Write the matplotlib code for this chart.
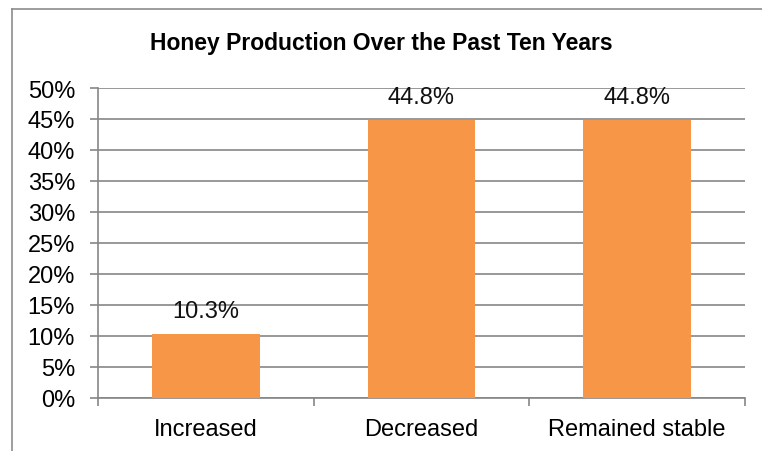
import matplotlib.pyplot as plt
from matplotlib.lines import Line2D

plt.rcParams['font.family'] = ['Liberation Sans', 'DejaVu Sans']

categories = ['Increased', 'Decreased', 'Remained stable']
values = [10.3, 44.8, 44.8]
value_labels = ['10.3%', '44.8%', '44.8%']
y_ticks = [0, 5, 10, 15, 20, 25, 30, 35, 40, 45, 50]

bar_color = '#F79646'
grid_color = '#868686'

fig = plt.figure(figsize=(7.62, 4.52), dpi=100)
ax = fig.add_axes([98 / 762, 1 - 399 / 452, (745 - 98) / 762, (399 - 89) / 452])

x = range(len(categories))
ax.bar(x, values, width=0.5, color=bar_color, zorder=3)

for xi, v, lab in zip(x, values, value_labels):
    ax.annotate(lab, (xi, v), xytext=(0, 12.5), textcoords='offset points',
                ha='center', va='baseline', fontsize=17, color='#111111')

ax.set_xlim(-0.5, len(categories) - 0.5)
ax.set_ylim(0, 50)
ax.set_yticks(y_ticks)
ax.set_yticklabels([f'{t}%' for t in y_ticks], fontsize=17)
ax.set_xticks(x)
ax.set_xticklabels(categories, fontsize=17)
ax.set_xticks([-0.5, 0.5, 1.5, 2.5], minor=True)

ax.yaxis.grid(True, color=grid_color, linewidth=1.2, zorder=0)
ax.tick_params(axis='y', length=6, width=1.2, color=grid_color, pad=10.5)
ax.tick_params(axis='x', which='major', length=0, pad=14.5)
ax.tick_params(axis='x', which='minor', length=6, width=1.2, color=grid_color)

for s in ['top', 'right']:
    ax.spines[s].set_visible(False)
for s in ['left', 'bottom']:
    ax.spines[s].set_color(grid_color)
    ax.spines[s].set_linewidth(1.2)

fig.text(0.5, 1 - 50 / 452, 'Honey Production Over the Past Ten Years', fontsize=16.5,
         fontweight='bold', ha='center', va='baseline')

# chart area border
fig.add_artist(Line2D([12 / 762, 12 / 762], [0, 1 - 10 / 452], transform=fig.transFigure,
                      color='#8c8c8c', linewidth=1.2))
fig.add_artist(Line2D([12 / 762, 1], [1 - 10 / 452, 1 - 10 / 452], transform=fig.transFigure,
                      color='#8c8c8c', linewidth=1.2))

fig.savefig('out.png', dpi=100)
